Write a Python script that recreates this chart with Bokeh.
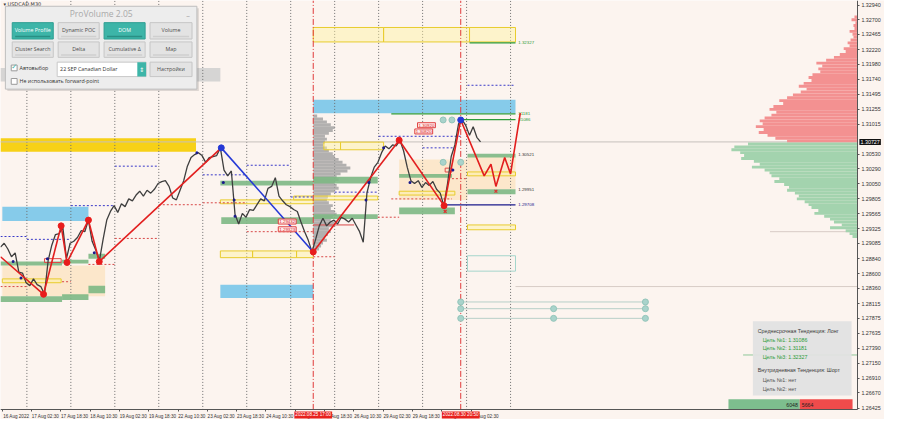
import numpy as np
from bokeh.plotting import figure
from bokeh.models import Range1d, FixedTicker, PrintfTickFormatter, Label
from bokeh.embed import file_html
from bokeh.resources import INLINE
from bokeh.core.properties import value

# ---------------- data (time in trading hours since 16 Aug 2022 09:30) ----------------
price_hours = list(range(0, 264, 2))
price_close = [1.29027, 1.29089, 1.28996, 1.28871, 1.28934, 1.28622, 1.28607, 1.28451, 1.28404, 1.28513,
               1.28420, 1.28389, 1.28264, 1.28809, 1.29058, 1.29230, 1.29245, 1.29354, 1.28840, 1.29089,
               1.29121, 1.29183, 1.29292, 1.29276, 1.29463, 1.29121, 1.28980, 1.28809, 1.29152, 1.29463,
               1.29603, 1.29697, 1.29588, 1.29728, 1.29681, 1.29806, 1.29775, 1.29868, 1.29930, 1.29852,
               1.29946, 1.29899, 1.29961, 1.30055, 1.30086, 1.30101, 1.30008, 1.29821, 1.29790, 1.29946,
               1.30101, 1.30335, 1.30475, 1.30522, 1.30553, 1.30506, 1.30397, 1.30475, 1.30491, 1.30506,
               1.30631, 1.30272, 1.30179, 1.30257, 1.29557, 1.29401, 1.29572, 1.29510, 1.29634, 1.29619,
               1.29712, 1.29806, 1.29775, 1.29977, 1.30008, 1.30148, 1.29852, 1.29775, 1.29712, 1.29681,
               1.29634, 1.29603, 1.29432, 1.29276, 1.29136, 1.28949, 1.29152, 1.29370, 1.29494, 1.29370,
               1.29432, 1.29463, 1.29401, 1.29510, 1.29479, 1.29432, 1.29494, 1.29385, 1.29276, 1.29105,
               1.29899, 1.30148, 1.30319, 1.30397, 1.30553, 1.30662, 1.30615, 1.30678, 1.30662, 1.30755,
               1.30584, 1.30319, 1.30101, 1.30055, 1.30101, 1.29992, 1.30070, 1.30024, 1.30086, 1.29961,
               1.29899, 1.29697, 1.30055, 1.30491, 1.30678, 1.31020, 1.31082, 1.30989, 1.30833, 1.30973,
               1.30802, 1.30727]
current_price = 1.30727

zz_hours = [0.0, 23.5, 33.1, 36.3, 48.0, 53.9, 120.5, 170.7, 217.6, 242.1, 251.2]
zz_price = [1.28871, 1.28264, 1.29370, 1.28778, 1.29463, 1.28793, 1.30631, 1.28949, 1.30755, 1.29697, 1.31082]
zz_dir = ["r", "r", "r", "r", "r", "r", "b", "r", "r", "r"]
proj_hours = [251.2, 264.0, 267.7, 270.4, 275.2, 278.4, 283.7]
proj_price = [1.31082, 1.30179, 1.30366, 1.30008, 1.30475, 1.30210, 1.31191]

green_t0 = [0.0, 33.6, 48.0, 0.0, 33.6, 48.0, 120.0, 170.7, 120.5, 170.7, 217.6, 217.6, 254.9, 254.9]
green_t1 = [33.6, 48.0, 57.1, 33.6, 48.0, 57.1, 170.7, 205.9, 170.7, 205.9, 246.4, 248.0, 281.1, 281.1]
green_top = [1.28793, 1.28824, 1.28918, 1.28233, 1.28264, 1.28404, 1.30101, 1.30164, 1.29510, 1.29557, 1.30210, 1.29665, 1.30537, 1.29961]
green_bot = [1.28731, 1.28762, 1.28840, 1.28140, 1.28171, 1.28280, 1.30024, 1.30055, 1.29401, 1.29479, 1.30148, 1.29557, 1.30475, 1.29883]

blue_t0 = [1.0, 120.0, 170.7]
blue_t1 = [48.0, 170.7, 281.1]
blue_top = [1.29681, 1.28420, 1.31409]
blue_bot = [1.29447, 1.28202, 1.31191]

gold_t0, gold_t1, gold_top, gold_bot = [0.0], [106.7], [1.30786], [1.30569]
grayz_t0, grayz_t1, grayz_top, grayz_bot = [0.0], [120.0], [1.31923], [1.31705]

beige_t0 = [1.0, 217.6, 254.9]
beige_t1 = [57.1, 254.9, 281.1]
beige_top = [1.28731, 1.30444, 1.30491]
beige_bot = [1.28233, 1.29790, 1.29961]

yb_t0 = [1.0, 120.0, 120.0, 137.6, 161.6, 176.5, 185.6, 160.0, 217.6, 254.9, 254.9, 170.7, 209.1, 256.0]
yb_t1 = [33.1, 170.7, 137.6, 161.6, 170.7, 185.6, 209.1, 205.9, 248.0, 281.1, 281.1, 209.1, 256.0, 281.1]
yb_top = [1.28513, 1.29790, 1.28965, 1.28965, 1.28965, 1.30724, 1.30724, 1.29852, 1.29930, 1.30242, 1.29385, 1.32577, 1.32577, 1.32577]
yb_bot = [1.28451, 1.29728, 1.28856, 1.28856, 1.28856, 1.30600, 1.30600, 1.29790, 1.29868, 1.30179, 1.29307, 1.32343, 1.32343, 1.32343]

teal_box = [254.9, 281.1, 1.28887, 1.28638]

bd_t0 = [0.0, 14.4, 38.4, 62.4, 110.4, 134.4, 158.4, 182.4, 206.4, 230.4, 254.9]
bd_t1 = [14.4, 38.4, 62.4, 86.4, 134.4, 158.4, 170.7, 206.4, 251.2, 248.0, 281.1]
bd_p = [1.29198, 1.29152, 1.29697, 1.30335, 1.30195, 1.30350, 1.29837, 1.29915, 1.30818, 1.30631, 1.31643]

rd_t0 = [0.0, 33.6, 48.0, 62.4, 86.4, 110.4, 134.4, 170.7, 205.9, 213.3, 246.4]
rd_t1 = [14.4, 38.4, 62.4, 86.4, 110.4, 134.4, 170.7, 182.4, 217.6, 246.4, 254.9]
rd_p = [1.28389, 1.28467, 1.28747, 1.29167, 1.29712, 1.29743, 1.29276, 1.28871, 1.29510, 1.29806, 1.30133]

target_t0 = [213.3, 251.2, 256.0]
target_t1 = [281.1, 281.1, 281.1]
target_p = [1.31181, 1.31086, 1.32327]
navy_line = [242.7, 281.1, 1.29708]
far_green_line = [405.3, 467.7, 1.27283]
faint_t0 = [281.1, 420.0]
faint_t1 = [467.7, 467.7]
faint_p = [1.28389, 1.29276]
red_short = [170.7, 193.0, 1.29385]

lvl_text = ["1.32327", "31181", "31086", "1.30521", "1.29951", "1.29708"]
lvl_price = [1.32327, 1.31181, 1.31086, 1.30521, 1.29951, 1.29708]
lvl_color = ["#2E9B3A", "#2E9B3A", "#2E9B3A", "#333333", "#333333", "#1A1A8C"]

nd_t = [6.9, 11.2, 25.6, 51.2, 107.2, 121.6, 127.5, 128.0, 199.5, 201.1, 209.1, 223.5, 246.9]
nd_p = [1.28793, 1.28529, 1.28840, 1.28934, 1.30553, 1.30070, 1.29790, 1.29525, 1.29790, 1.30070, 1.30631, 1.30070, 1.30272]

tc_t = [241.6, 246.4, 241.6, 251.2, 251.2, 251.2, 251.2, 301.9, 301.9, 352.0, 352.0, 352.0]
tc_p = [1.31082, 1.31082, 1.30397, 1.30397, 1.28140, 1.28031, 1.27875, 1.28031, 1.27875, 1.28140, 1.28031, 1.27875]
tc_rows = [1.28140, 1.28031, 1.27875]

rx_t = [242.7, 270.4]
rx_p = [1.29603, 1.29930]
ro_t0, ro_t1 = [24.0, 242.7], [33.1, 246.4]
ro_top, ro_bot = [1.28840, 1.30303], [1.28778, 1.30241]

rb_text = ["1.29432", "1.29323", "1.30920", "1.30820"]
rb_t = [156.5, 156.5, 232.5, 231.0]
rb_p = [1.29440, 1.29315, 1.30997, 1.30896]

# volume profiles (relative volume units)
mid_profile_start = 170.7
mid_profile_top = 1.31145
mid_profile_vol = [4, 10, 14, 18, 22, 20, 16, 12, 14, 12, 10, 14, 16, 20, 22, 26, 30, 34, 38, 35,
                   28, 24, 26, 22, 24, 26, 22, 18, 15, 14, 16, 20, 18, 22, 24, 20, 18, 22, 20, 16,
                   18, 15, 12, 14, 10, 8, 6, 3]
right_profile_top = 1.32748
right_profile_vol = [3, 6, 2, 4, 3, 8, 5, 4, 7, 10, 8, 14, 12, 18, 24, 32, 42, 36, 40, 38,
                     46, 50, 47, 55, 60, 52, 58, 66, 72, 80, 76, 86, 90, 83, 88, 95, 100, 97, 104, 96,
                     101, 92, 84, 72, 112, 126, 129, 120, 116, 119, 106, 100, 108, 95, 90, 88, 80, 85, 75, 70,
                     72, 64, 60, 62, 54, 50, 47, 40, 44, 34, 28, 24, 16, 28, 12, 8, 5]
profile_step = 0.000467
buy_total, sell_total = 6048, 5664

day_hours = [14.4, 38.4, 62.4, 86.4, 110.4, 134.4, 158.4, 182.4, 206.4, 230.4, 254.4, 278.4]
event_hours = [170.7, 251.2]
event_labels = ["2022.08.25 17:00", "2022.08.30 20:50"]

time_label_hours = [1.0, 16.9, 32.9, 48.9, 64.9, 80.9, 96.9, 112.9, 128.9, 144.9, 160.9, 176.9,
                    192.9, 208.9, 224.9, 240.9, 256.9]
time_labels = ["16 Aug 2022", "17 Aug 02:30", "17 Aug 18:30", "18 Aug 10:30", "19 Aug 02:30",
               "19 Aug 18:30", "22 Aug 10:30", "23 Aug 02:30", "23 Aug 18:30", "24 Aug 10:30",
               "25 Aug 02:30", "25 Aug 18:30", "26 Aug 10:30", "29 Aug 02:30", "29 Aug 18:30",
               "30 Aug 10:30", "31 Aug 02:30"]
price_ticks = [1.32940, 1.32700, 1.32465, 1.32220, 1.31980, 1.31740, 1.31495, 1.31255, 1.31015,
               1.30530, 1.30290, 1.30050, 1.29805, 1.29565, 1.29325, 1.29085, 1.28840, 1.28600,
               1.28360, 1.28115, 1.27875, 1.27635, 1.27390, 1.27150, 1.26910, 1.26670, 1.26425]

# ---------------- figure ----------------
# the frame spans the whole canvas; the axes sit at fixed positions inside it
T_AX, P_AX, P_TOP = 467.7, 1.26395, 1.33013
BG = "#FCF4EF"
FONT = "Liberation Sans"
UIF = "Open Sans"

p = figure(width=884, height=419, output_backend="svg", toolbar_location=None,
           x_range=Range1d(0.0, 482.5), y_range=Range1d(1.26240, P_TOP), y_axis_location="right",
           min_border_left=0, min_border_top=0, min_border_right=0, min_border_bottom=0)
p.background_fill_color = BG
p.border_fill_color = BG
p.outline_line_color = None
p.xgrid.visible = False
p.ygrid.visible = False

xa = p.xaxis[0]
centers = [round(h + 7.6, 2) for h in time_label_hours]
xa.fixed_location = P_AX
xa.bounds = (0.0, T_AX)
xa.ticker = FixedTicker(ticks=centers, minor_ticks=time_label_hours)
xa.major_label_overrides = {c: s for c, s in zip(centers, time_labels)}
xa.major_tick_out = 0
xa.major_tick_in = 0
xa.minor_tick_out = 2
xa.minor_tick_in = 0
xa.major_label_standoff = 2
xa.major_label_text_font = FONT
xa.major_label_text_font_size = "4.6px"
xa.major_label_text_color = "#333333"
xa.axis_line_color = "#555555"
xa.minor_tick_line_color = "#555555"

ya = p.yaxis[0]
ya.fixed_location = T_AX
ya.bounds = (P_AX, P_TOP)
ya.ticker = FixedTicker(ticks=price_ticks, minor_ticks=[])
ya.formatter = PrintfTickFormatter(format="%.5f")
ya.major_tick_out = 2
ya.major_tick_in = 0
ya.major_label_standoff = 2
ya.major_label_text_font = FONT
ya.major_label_text_font_size = "5.4px"
ya.major_label_text_color = "#333333"
ya.axis_line_color = "#555555"
ya.major_tick_line_color = "#555555"


def txt(x, y, s, size, color, align="left", font=FONT, baseline="middle", style="normal"):
    p.text(x=[x], y=[y], text=[s], text_font=value(font), text_font_size=value(size),
           text_color=color, text_align=align, text_baseline=baseline, text_font_style=style)


# zones
p.quad(left=grayz_t0, right=grayz_t1, top=grayz_top, bottom=grayz_bot, fill_color="#CFCFCF", fill_alpha=0.85, line_color=None)
p.quad(left=beige_t0, right=beige_t1, top=beige_top, bottom=beige_bot, fill_color="#FCE6C6", fill_alpha=0.9, line_color=None)
p.quad(left=blue_t0, right=blue_t1, top=blue_top, bottom=blue_bot, fill_color="#86CBEA", line_color=None)
p.quad(left=gold_t0, right=gold_t1, top=gold_top, bottom=gold_bot, fill_color="#F7D117", line_color=None)

# day separators and current price line
p.segment(x0=day_hours, x1=day_hours, y0=[P_AX] * len(day_hours), y1=[P_TOP] * len(day_hours),
          line_color="#6E6E6E", line_dash="1 2", line_width=1)
p.segment(x0=[0.0], x1=[T_AX], y0=[current_price], y1=[current_price], line_color="#C6C0BC", line_width=1)
p.segment(x0=faint_t0, x1=faint_t1, y0=faint_p, y1=faint_p, line_color="#D8CCC6", line_width=1)

# volume profiles
mid_lv = [mid_profile_top - i * profile_step for i in range(len(mid_profile_vol))]
p.quad(left=[mid_profile_start] * len(mid_lv), right=[mid_profile_start + v * 0.533 for v in mid_profile_vol],
       top=[l + profile_step / 2 for l in mid_lv], bottom=[l - profile_step / 2 for l in mid_lv],
       fill_color="#9A9A9A", fill_alpha=0.75, line_color=None)
rp_lv = [right_profile_top - i * profile_step for i in range(len(right_profile_vol))]
rp_col = ["#F39191" if l > current_price else "#A3D3AE" for l in rp_lv]
p.quad(left=[T_AX - v * 0.533 for v in right_profile_vol], right=[T_AX] * len(rp_lv),
       top=[l + profile_step / 2 for l in rp_lv], bottom=[l - profile_step / 2 for l in rp_lv],
       fill_color=rp_col, line_color=None)

# green bands, yellow boxes
p.quad(left=green_t0, right=green_t1, top=green_top, bottom=green_bot, fill_color="#7DB884", fill_alpha=0.9, line_color=None)
p.quad(left=yb_t0, right=yb_t1, top=yb_top, bottom=yb_bot, fill_color="#FFF2A0", fill_alpha=0.45,
       line_color="#E8CC2E", line_width=1)
p.quad(left=[teal_box[0]], right=[teal_box[1]], top=[teal_box[2]], bottom=[teal_box[3]], fill_color=None,
       line_color="#A5D6CC", line_width=1)
p.quad(left=ro_t0, right=ro_t1, top=ro_top, bottom=ro_bot, fill_color=None, line_color="#E04848", line_width=1)

# levels
p.segment(x0=bd_t0, x1=bd_t1, y0=bd_p, y1=bd_p, line_color="#3838C8", line_dash="2 2", line_width=1)
p.segment(x0=rd_t0, x1=rd_t1, y0=rd_p, y1=rd_p, line_color="#D84848", line_dash="2 2", line_width=1)
p.segment(x0=target_t0, x1=target_t1, y0=target_p, y1=target_p, line_color="#2E9B3A", line_width=1.3)
p.segment(x0=[navy_line[0]], x1=[navy_line[1]], y0=[navy_line[2]], y1=[navy_line[2]], line_color="#1A1A8C", line_width=1.3)
p.segment(x0=[far_green_line[0]], x1=[far_green_line[1]], y0=[far_green_line[2]], y1=[far_green_line[2]],
          line_color="#8FC79A", line_width=1)
p.segment(x0=[red_short[0]], x1=[red_short[1]], y0=[red_short[2]], y1=[red_short[2]], line_color="#D84848", line_width=1)
for r in tc_rows:
    p.segment(x0=[251.2], x1=[352.0], y0=[r], y1=[r], line_color="#B7CFC8", line_width=1)
p.text(x=[282.6] * len(lvl_text), y=lvl_price, text=lvl_text, text_font=value(FONT), text_font_size=value("4.4px"),
       text_color=lvl_color, text_baseline="middle")

# event lines
p.segment(x0=event_hours, x1=event_hours, y0=[P_AX, P_AX], y1=[P_TOP, P_TOP], line_color="#E03A3A",
          line_dash="6 2 1 2", line_width=1)

# price
p.line(price_hours, price_close, line_color="#3E3E3E", line_width=1.3)

# zigzag
for i in range(len(zz_hours) - 1):
    p.line([zz_hours[i], zz_hours[i + 1]], [zz_price[i], zz_price[i + 1]],
           line_color="#E21E1E" if zz_dir[i] == "r" else "#2438D6", line_width=1.6)
p.line(proj_hours, proj_price, line_color="#E21E1E", line_width=1.6)
p.scatter(zz_hours[1:6] + zz_hours[7:10], zz_price[1:6] + zz_price[7:10], marker="circle", size=6,
          fill_color="#E81C1C", line_color="#E81C1C")
p.scatter([zz_hours[6], zz_hours[10]], [zz_price[6], zz_price[10]], marker="circle", size=6,
          fill_color="#2438D6", line_color="#2438D6")
p.scatter(nd_t, nd_p, marker="circle", size=3, fill_color="#1A1A8C", line_color=None)
p.scatter(tc_t, tc_p, marker="circle", size=6, fill_color="#A9D3CB", line_color="#93C5BA")
p.scatter(rx_t, rx_p, marker="x", size=4, line_color="#E03030", line_width=1.2)

for s, t, pr in zip(rb_text, rb_t, rb_p):
    p.add_layout(Label(x=t, y=pr, text=s, text_font=FONT, text_font_size="4.4px", text_color="#D82020",
                       background_fill_color="#FFECEC", border_line_color="#E04040", text_align="center",
                       text_baseline="middle", padding=1))

# ---------------- UI overlays (pixel layout -> data space) ----------------
def ux(px):
    return px / 1.875


def uy(py):
    return 1.33013 - 0.0001557 * py


def box(x0, x1, y0, y1, fill, line=None, alpha=1.0):
    p.quad(left=[ux(x0)], right=[ux(x1)], top=[uy(y0)], bottom=[uy(y1)], fill_color=fill,
           fill_alpha=alpha, line_color=line)


txt(ux(3), uy(3.5), "▾ USDCAD,M30", "5px", "#333333", font="DejaVu Sans")

box(7, 203, 8, 94, "#000000", alpha=0.12)
box(5, 201, 6, 92, "#EDEDED", "#BEBEBE")
txt(ux(103), uy(14), "ProVolume 2.05", "8.5px", "#A9A9A9", align="center", font=UIF)
txt(ux(192), uy(13), "_", "7px", "#8A8A8A", align="center", font=UIF)
buttons = [(12, 54, 23, 40, "Volume Profile", True), (59, 101, 23, 40, "Dynamic POC", False),
           (106, 148, 23, 40, "DOM", True), (153, 196, 23, 40, "Volume", False),
           (12, 54, 43, 59, "Cluster Search", False), (59, 101, 43, 59, "Delta", False),
           (106, 148, 43, 59, "Cumulative Δ", False), (153, 196, 43, 59, "Map", False)]
for x0, x1, y0, y1, s, on in buttons:
    box(x0, x1, y0, y1, "#3DB5A8" if on else "#E3E3E3", "#2F9E92" if on else "#C6C6C6")
    p.segment(x0=[ux(x0 + 3)], x1=[ux(x1 - 3)], y0=[uy(y1 - 2.5)], y1=[uy(y1 - 2.5)],
              line_color="#2A8F84" if on else "#CFCFCF", line_width=1.5)
    txt(ux((x0 + x1) / 2), uy((y0 + y1) / 2 - 0.5), s, "5.3px", "#FFFFFF" if on else "#4A4A4A",
        align="center", font=UIF)
box(58, 149, 64, 79, "#FFFFFF", "#C8C8C8")
box(140, 149, 64, 79, "#3DB5A8", None)
txt(ux(61), uy(71.5), "22 SEP Canadian Dollar", "5.3px", "#333333", font=UIF)
txt(ux(144.5), uy(71.5), "⇕", "6px", "#FFFFFF", align="center", font="DejaVu Sans")
box(153, 196, 64, 79, "#E3E3E3", "#C6C6C6")
txt(ux(174.5), uy(71.5), "Настройки", "5.3px", "#4A4A4A", align="center", font=UIF)
box(11, 17, 67, 73, "#FFFFFF", "#9A9A9A")
txt(ux(14), uy(69.5), "✓", "7px", "#3DB5A8", align="center", font="DejaVu Sans")
txt(ux(19.5), uy(70), "Автовыбор", "5.3px", "#333333", font=UIF)
box(11, 17, 81, 87, "#FFFFFF", "#9A9A9A")
txt(ux(19.5), uy(84), "Не использовать forward-point", "5.3px", "#333333", font=UIF)

# info box
box(770, 871, 333, 410, "#E2E2E2", None, alpha=0.95)
info = [(775, 343, "Среднесрочная Тенденция: Лонг", "#3A3A3A"),
        (780, 352, "Цель №1: 1.31086", "#2E9B3A"),
        (780, 361, "Цель №2: 1.31181", "#2E9B3A"),
        (780, 370, "Цель №3: 1.32327", "#2E9B3A"),
        (775, 384, "Внутридневная Тенденция: Шорт", "#3A3A3A"),
        (780, 394, "Цель №1: нет", "#555555"),
        (780, 403, "Цель №2: нет", "#555555")]
for x0, y0, s, c in info:
    txt(ux(x0), uy(y0), s, "5.3px", c, font=FONT)

# buy / sell totals bar
box(745, 818, 414, 425, "#7DBE8E", None)
box(818, 872, 414, 425, "#EF4B4B", None)
txt(ux(816), uy(419.5), str(buy_total), "5.2px", "#1E1E1E", align="right")
txt(ux(820), uy(419.5), str(sell_total), "5.2px", "#1E1E1E")

# highlighted labels on the axes
for h, s in zip(event_hours, event_labels):
    p.add_layout(Label(x=h, y=P_AX, text=s, text_font=FONT, text_font_size="4.6px", text_color="#FFFFFF",
                       background_fill_color="#E8221E", text_align="center", text_baseline="top",
                       y_offset=-1.5, padding=1))
p.add_layout(Label(x=T_AX, y=current_price, text=f"{current_price:.5f}", text_font=FONT, text_font_size="5.4px",
                   text_color="#FFFFFF", background_fill_color="#111111", text_align="left",
                   text_baseline="middle", x_offset=2, padding=1))

open("out.html", "w").write(file_html(p, INLINE))
